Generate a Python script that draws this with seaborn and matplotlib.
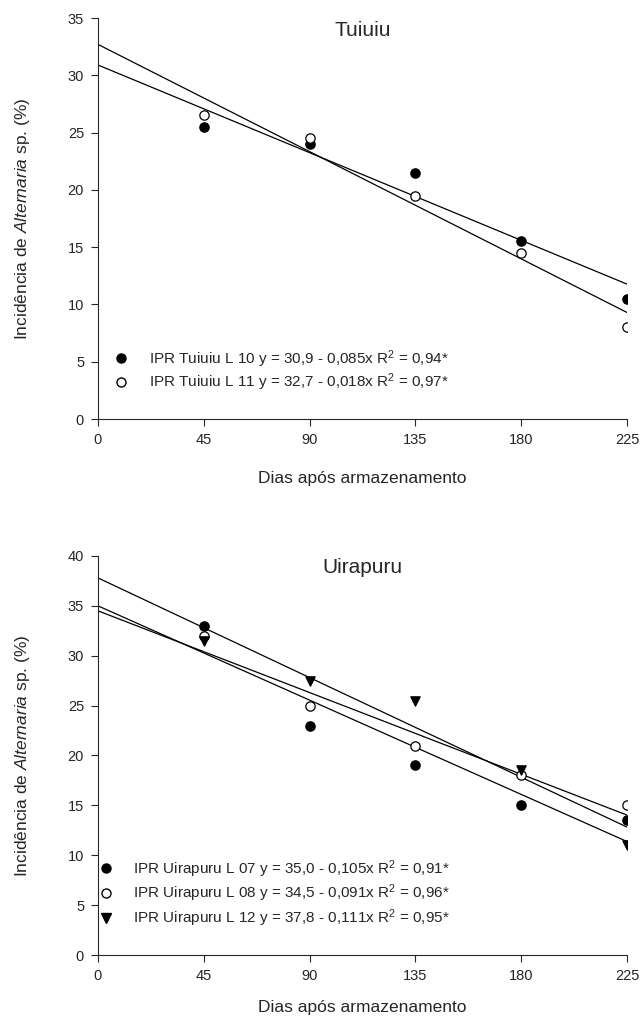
import numpy as np
import pandas as pd
import matplotlib
matplotlib.use("Agg")
import matplotlib.pyplot as plt
import seaborn as sns

# storage days
days = [45, 90, 135, 180, 225]

# Tuiuiu panel
tuiuiu_l10 = [25.5, 24.0, 21.5, 15.5, 10.5]
tuiuiu_l11 = [26.5, 24.5, 19.5, 14.5, 8.0]
tuiuiu_intercepts = [30.9, 32.7]
tuiuiu_slopes = [-0.085, -0.104]
tuiuiu_labels = [
    "IPR Tuiuiu L 10 y = 30,9 - 0,085x R$^2$ = 0,94*",
    "IPR Tuiuiu L 11 y = 32,7 - 0,018x R$^2$ = 0,97*",
]

# Uirapuru panel
uira_l07 = [33.0, 23.0, 19.0, 15.0, 13.5]
uira_l08 = [32.0, 25.0, 21.0, 18.0, 15.0]
uira_l12 = [31.5, 27.5, 25.5, 18.5, 11.0]
uira_intercepts = [35.0, 34.5, 37.8]
uira_slopes = [-0.105, -0.091, -0.111]
uira_labels = [
    "IPR Uirapuru L 07 y = 35,0 - 0,105x R$^2$ = 0,91*",
    "IPR Uirapuru L 08 y = 34,5 - 0,091x R$^2$ = 0,96*",
    "IPR Uirapuru L 12 y = 37,8 - 0,111x R$^2$ = 0,95*",
]

sns.set_style("ticks")
plt.rcParams['font.family'] = ['Liberation Sans', 'DejaVu Sans']
plt.rcParams['mathtext.fontset'] = 'custom'
plt.rcParams['mathtext.rm'] = 'Liberation Sans'
plt.rcParams['mathtext.it'] = 'Liberation Sans:italic'

fig = plt.figure(figsize=(6.42, 10.19), dpi=100)
ax_top = fig.add_axes([0.1526, 0.5888, 0.824, 0.3935])
ax_bot = fig.add_axes([0.1526, 0.0628, 0.824, 0.3916])

styles = [
    dict(marker="o", color="black"),
    dict(marker="o", color="white"),
    dict(marker="v", color="black"),
]


def draw_panel(ax, series, intercepts, slopes, labels, title, ymax,
               legend_anchor, spacing, xpad):
    x_line = np.array([0, 225])
    for b0, b1 in zip(intercepts, slopes):
        line_df = pd.DataFrame({"x": x_line, "y": b0 + b1 * x_line})
        sns.lineplot(data=line_df, x="x", y="y", ax=ax, color="black", linewidth=0.9)

    handles = []
    for vals, st, lab in zip(series, styles, labels):
        df = pd.DataFrame({"x": days, "y": vals})
        sns.scatterplot(data=df, x="x", y="y", ax=ax, marker=st["marker"],
                        color=st["color"], edgecolor="black",
                        linewidth=0.9, s=45, zorder=3)
        handles.append(plt.Line2D([], [], linestyle="none", marker=st["marker"],
                                  markerfacecolor=st["color"], markeredgecolor="black",
                                  markersize=6.5, label=lab))

    ax.set_xlim(0, 225)
    ax.set_ylim(0, ymax)
    ax.set_xticks([0, 45, 90, 135, 180, 225])
    ax.set_yticks(np.arange(0, ymax + 1, 5))
    ax.tick_params(labelsize=10.5, direction="out", length=5, width=0.8, pad=5)
    ax.set_xlabel("Dias após armazenamento", fontsize=12.5, labelpad=xpad)
    ax.set_ylabel("Incidência de $\\it{Alternaria}$ sp. (%)", fontsize=12.5, labelpad=26)
    ax.text(0.5, 0.97, title, transform=ax.transAxes, ha="center", va="center", fontsize=15)
    sns.despine(ax=ax)
    for sp in ["left", "bottom"]:
        ax.spines[sp].set_linewidth(0.8)
    ax.legend(handles=handles, loc="lower left", bbox_to_anchor=legend_anchor,
              frameon=False, fontsize=11, handletextpad=0.8, labelspacing=spacing,
              borderaxespad=0)


draw_panel(ax_top, [tuiuiu_l10, tuiuiu_l11], tuiuiu_intercepts, tuiuiu_slopes,
           tuiuiu_labels, "Tuiuiu", 35, (0.004, 0.05), 0.1, 17)
draw_panel(ax_bot, [uira_l07, uira_l08, uira_l12], uira_intercepts, uira_slopes,
           uira_labels, "Uirapuru", 40, (-0.026, 0.05), 0.2, 12)

fig.savefig("out.png", dpi=100)
